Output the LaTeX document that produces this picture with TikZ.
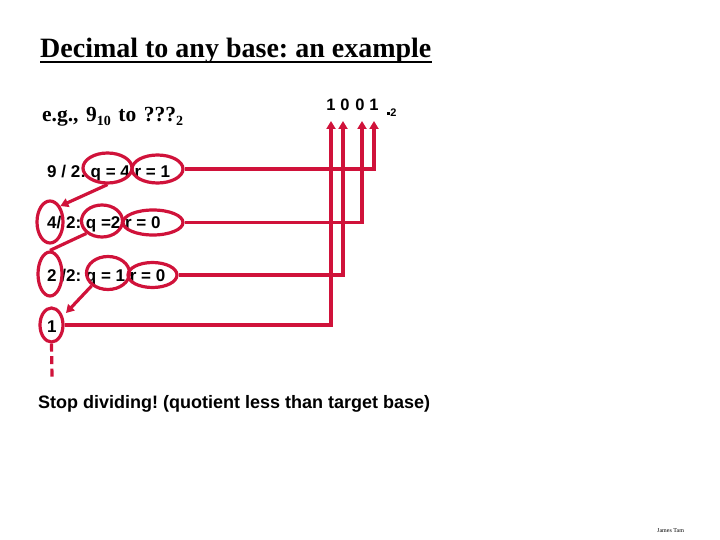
\documentclass[tikz,border=0pt]{standalone}
\usepackage{fontspec}
\setmainfont{Liberation Serif}
\newfontfamily\arialf{Liberation Sans}
\usetikzlibrary{shapes.geometric,arrows.meta}
\definecolor{redline}{RGB}{208,18,58}
\frenchspacing
\tikzset{
  ring/.style={draw=redline,line width=3.2pt,ellipse,inner sep=0pt},
  wire/.style={draw=redline,line width=3.2pt},
  tip/.style={-{Triangle[length=8pt,width=9pt]}},
  rowtxt/.style={anchor=base west,inner sep=0pt,font=\arialf\bfseries\fontsize{17}{20}\selectfont},
  digit/.style={inner sep=0pt,font=\arialf\bfseries\fontsize{16.5}{19}\selectfont}
}
\begin{document}
\begin{tikzpicture}[x=1pt,y=-1pt]
\useasboundingbox[fill=white] (0,0) rectangle (720,540);
% title
\node[anchor=base west,inner sep=0pt,font=\bfseries\fontsize{28}{30}\selectfont] (title) at (40,58) {Decimal to any base: an example};
\draw[line width=1.6pt] ([yshift=-4pt]title.base west) -- ([yshift=-4pt]title.base east);
\node[anchor=base west,inner sep=0pt,font=\bfseries\fontsize{21.5}{25}\selectfont] (eg) at (42,122) {e.g.,\hspace{0.35em}9\raisebox{-4pt}{\fontsize{14}{14}\selectfont 10}\hspace{0.35em}to\hspace{0.35em}???\raisebox{-4pt}{\fontsize{14}{14}\selectfont 2}};
% result digits
\node[digit] (d1) at (331,105) {1};
\node[digit] (d2) at (345,105) {0};
\node[digit] (d3) at (360,105) {0};
\node[digit] (d4) at (374,105) {1};
\node[inner sep=0pt,font=\arialf\bfseries\fontsize{11}{12}\selectfont] (base) at (392,113) {\rule[2pt]{2.5pt}{2.5pt}\kern0.5pt 2};
\coordinate (t1) at (331,121);
\coordinate (t2) at (343,121);
\coordinate (t3) at (362,121);
\coordinate (t4) at (374,121);
% rows
\node[rowtxt] (row1) at (47,178) {9 / 2: q = 4 r = 1};
\node[rowtxt] (row2) at (47,229) {4/ 2: q =2 r = 0};
\node[rowtxt] (row3) at (47,281) {2 /2: q = 1 r = 0};
\node[rowtxt] (row4) at (47,332) {1};
% ellipses
\node[ring,minimum width=49pt,minimum height=30pt] (q1) at (107.5,168) {};
\node[ring,minimum width=51pt,minimum height=28pt] (r1) at (157.5,169) {};
\node[ring,minimum width=26pt,minimum height=42pt] (n2) at (50,222) {};
\node[ring,minimum width=41pt,minimum height=32pt] (q2) at (102,221) {};
\node[ring,minimum width=60pt,minimum height=25pt] (r2) at (153,222.5) {};
\node[ring,minimum width=24pt,minimum height=44pt] (n3) at (50,274) {};
\node[ring,minimum width=43pt,minimum height=33pt] (q3) at (108,273) {};
\node[ring,minimum width=49pt,minimum height=25pt] (r3) at (152.5,275) {};
\node[ring,minimum width=23pt,minimum height=34pt] (n4) at (51.5,325) {};
% quotient arrows
\draw[wire,tip] (q1.south) -- (n2.north east);
\draw[wire] (q2.south west) -- (n3.north);
\draw[wire,tip] (q3.south west) -- (66,313);
% remainder wires
\draw[wire,tip] (r1.east) -| (t4);
\draw[wire,tip] (r2.east) -| (t3);
\draw[wire,tip] (r3.east) -| (t2);
\draw[wire,tip] (n4.east) -| (t1);
% stop
\coordinate (stopend) at (52,377);
\draw[wire,dash pattern=on 8pt off 4.5pt] (n4.south) -- (stopend);
\node[anchor=base west,inner sep=0pt,font=\arialf\bfseries\fontsize{18}{20}\selectfont] (stop) at (38,408) {Stop dividing! (quotient less than target base)};
\node[anchor=base west,inner sep=0pt,font=\fontsize{6}{7}\selectfont] (author) at (657,532) {James Tam};
\end{tikzpicture}
\end{document}
